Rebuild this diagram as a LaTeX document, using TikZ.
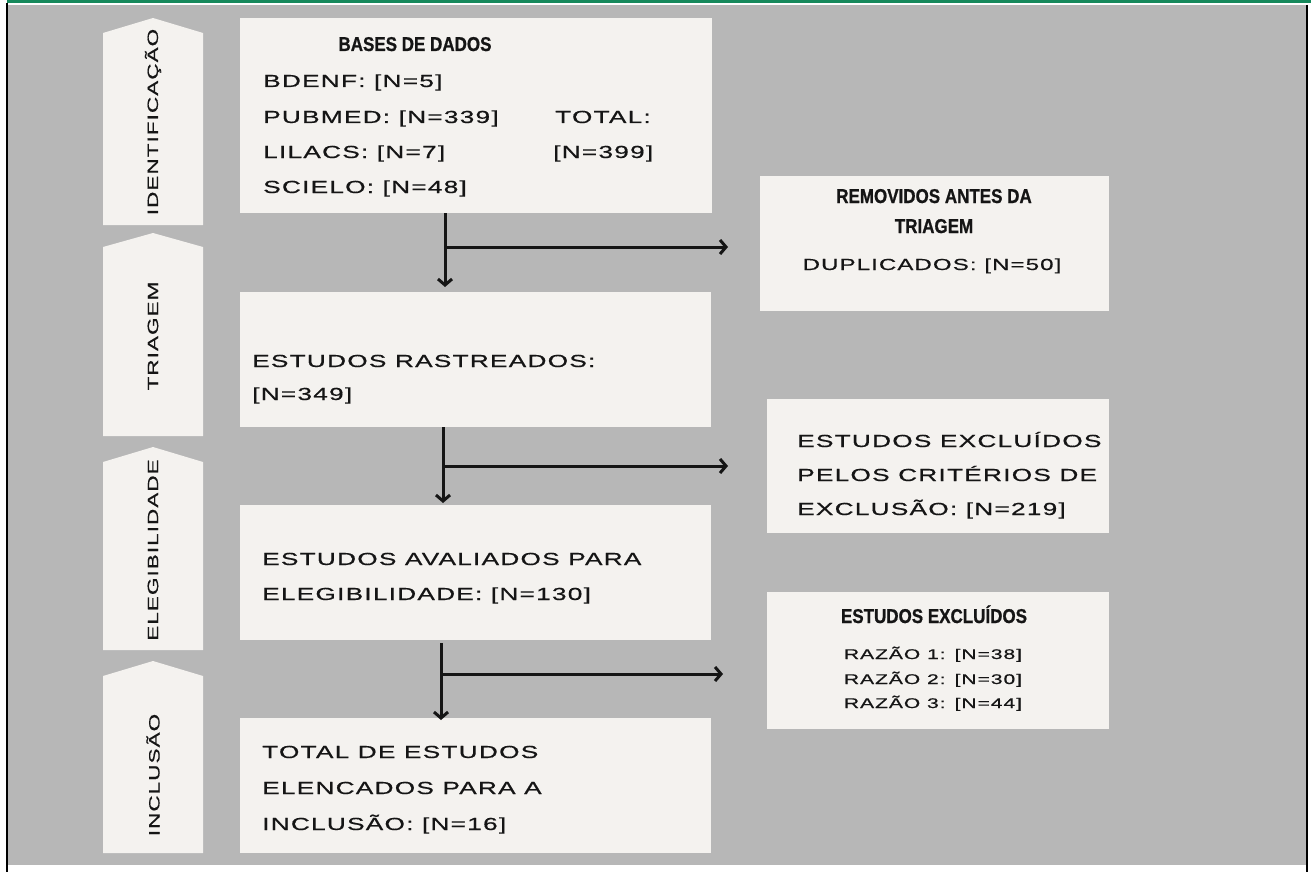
\documentclass[tikz,border=0pt]{standalone}
\usepackage{fontspec}
\usetikzlibrary{arrows.meta}
\newfontfamily\bodyfont[FakeStretch=1.5,LetterSpace=7,FakeBold=0.6]{Liberation Sans}
\newfontfamily\headfont[FakeStretch=0.85,FakeBold=0.8]{Liberation Sans}
\definecolor{bg}{HTML}{B7B7B7}
\definecolor{boxc}{HTML}{F4F2EF}
\definecolor{greenbar}{HTML}{16895C}
\definecolor{ink}{HTML}{151515}
\begin{document}
\begin{tikzpicture}[x=1pt,y=-1pt,
  box/.style={rectangle,fill=boxc,draw=none,inner sep=0pt,anchor=north west},
  body/.style={font=\bodyfont\fontsize{17.5}{20}\selectfont,text=ink,inner sep=0pt,anchor=base west},
  bodyc/.style={font=\bodyfont\fontsize{16}{20}\selectfont,text=ink,inner sep=0pt,anchor=base},
  smallc/.style={font=\bodyfont\fontsize{14}{18}\selectfont,text=ink,inner sep=0pt,anchor=base},
  head/.style={font=\headfont\bfseries\fontsize{20}{22}\selectfont,text=ink,inner sep=0pt,anchor=base},
  side/.style={font=\bodyfont\fontsize{15}{18}\selectfont,text=ink,inner sep=0pt,rotate=90},
  arr/.style={line width=3pt,draw=ink,-{Straight Barb[length=6pt,width=14pt]}}]
\useasboundingbox (0,0) rectangle (1311,872);
\fill[white] (0,0) rectangle (1311,872);
\fill[greenbar] (7,0) rectangle (1311,3);
\fill[bg] (8,5) rectangle (1306,865);
\draw[black,line width=2pt] (7,3) -- (7,872);
\draw[black,line width=2pt] (1307,5) -- (1307,872);
% side phase arrows
\foreach \t/\s/\b in {18/33/225, 233/247/436, 447/462/650, 661/676/853}
  \fill[boxc] (103,\b) -- (103,\s) -- (153,\t) -- (203,\s) -- (203,\b) -- cycle;
\node[side] (p1) at (153,122) {IDENTIFICAÇÃO};
\node[side] (p2) at (153,336) {TRIAGEM};
\node[side] (p3) at (153,550) {ELEGIBILIDADE};
\node[side] (p4) at (153,775) {INCLUSÃO};
% boxes
\node[box,minimum width=472pt,minimum height=195pt] (bases) at (240,18) {};
\node[box,minimum width=471pt,minimum height=135pt] (rast) at (240,292) {};
\node[box,minimum width=471pt,minimum height=135pt] (aval) at (240,505) {};
\node[box,minimum width=471pt,minimum height=135pt] (total) at (240,718) {};
\node[box,minimum width=349pt,minimum height=135pt] (remov) at (760,176) {};
\node[box,minimum width=342pt,minimum height=134pt] (excl1) at (767,399) {};
\node[box,minimum width=342pt,minimum height=137pt] (excl2) at (767,592) {};
% texts
\node[head] (tb) at (415,51) {BASES DE DADOS};
\node[body] (tb1) at (263,87) {BDENF: [N=5]};
\node[body] (tb2) at (263,123) {PUBMED: [N=339]};
\node[body] (tb3) at (263,158) {LILACS: [N=7]};
\node[body] (tb4) at (263,193) {SCIELO: [N=48]};
\node[body] (tt1) at (555,123) {TOTAL:};
\node[body] (tt2) at (553,158) {[N=399]};
\node[body] (tr1) at (252,367) {ESTUDOS RASTREADOS:};
\node[body] (tr2) at (252,400) {[N=349]};
\node[body] (ta1) at (262,565) {ESTUDOS AVALIADOS PARA};
\node[body] (ta2) at (262,600) {ELEGIBILIDADE: [N=130]};
\node[body] (tz1) at (262,758) {TOTAL DE ESTUDOS};
\node[body] (tz2) at (262,794) {ELENCADOS PARA A};
\node[body] (tz3) at (262,830) {INCLUSÃO: [N=16]};
\node[head] (tm1) at (934,203) {REMOVIDOS ANTES DA};
\node[head] (tm2) at (934,233) {TRIAGEM};
\node[bodyc] (tm3) at (932,270) {DUPLICADOS: [N=50]};
\node[body] (te1) at (797,447) {ESTUDOS EXCLUÍDOS};
\node[body] (te2) at (797,481) {PELOS CRITÉRIOS DE};
\node[body] (te3) at (797,515) {EXCLUSÃO: [N=219]};
\node[head] (tx1) at (934,623) {ESTUDOS EXCLUÍDOS};
\node[smallc] (tx2) at (933,659) {RAZÃO 1: [N=38]};
\node[smallc] (tx3) at (933,684) {RAZÃO 2: [N=30]};
\node[smallc] (tx4) at (933,708) {RAZÃO 3: [N=44]};
% connectors
\coordinate (j1) at (445,247);
\coordinate (j2) at (443,466);
\coordinate (j3) at (441,674);
\draw[arr,shorten >=5pt] (j1 |- bases.south) -- (j1 |- rast.north);
\draw[arr,shorten >=32pt] (j1) -- (j1 -| remov.west);
\draw[arr,shorten >=2pt] (j2 |- rast.south) -- (j2 |- aval.north);
\draw[arr,shorten >=39pt] (j2) -- (j2 -| excl1.west);
\draw[arr,shorten <=3pt,shorten >=-2pt] (j3 |- aval.south) -- (j3 |- total.north);
\draw[arr,shorten >=44pt] (j3) -- (j3 -| excl2.west);
\end{tikzpicture}
\end{document}
